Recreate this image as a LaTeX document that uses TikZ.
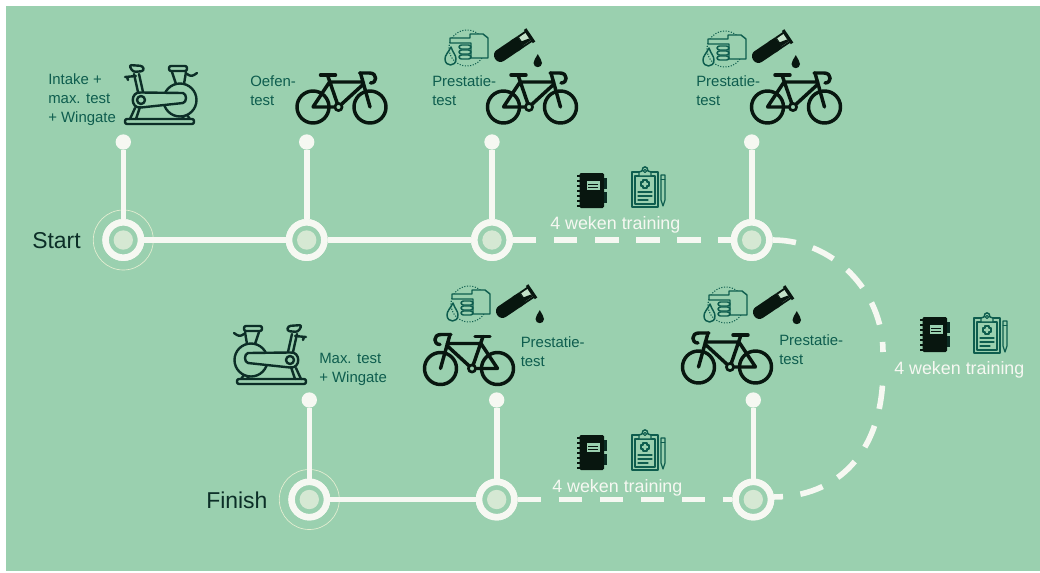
\documentclass[tikz,border=0pt]{standalone}
\usepackage{fontspec}
\setmainfont{Liberation Sans}
\definecolor{bgc}{HTML}{9AD0AF}
\definecolor{pale}{HTML}{D5E8D3}
\definecolor{wht}{HTML}{F6F8F2}
\definecolor{ink}{HTML}{08160F}
\definecolor{teal}{HTML}{0E5D4E}
\definecolor{dark}{HTML}{0C2E27}
\definecolor{halo}{HTML}{E4EED2}
\tikzset{
  x=0.75pt,y=-0.75pt,
  stem/.style={draw=wht,line width=4.2pt},
  dashline/.style={draw=wht,line width=4.2pt,dash pattern=on 17.6pt off 13.2pt},
  ringnode/.style={circle,draw=wht,line width=4.9pt,fill=bgc,minimum size=26.5pt,inner sep=0pt},
  coredot/.style={circle,fill=pale,minimum size=14.5pt,inner sep=0pt},
  halonode/.style={circle,draw=halo,line width=0.5pt,minimum size=45pt,inner sep=0pt},
  enddot/.style={circle,fill=wht,minimum size=11.5pt,inner sep=0pt},
  lab/.style={anchor=west,inner sep=0pt,align=left,text=teal,font=\fontsize{11.2}{14.2}\selectfont},
  big/.style={anchor=base west,inner sep=0pt,text=dark,font=\fontsize{17.2}{20}\selectfont},
  wk/.style={anchor=base west,inner sep=0pt,text=wht,font=\fontsize{13.4}{16}\selectfont},
  bk/.style={draw=ink,line width=2.6pt,line cap=round,line join=round},
  eb/.style={draw=dark,line width=1.8pt,line cap=round,line join=round},
  tl/.style={draw=teal,line width=1.1pt,line cap=round,line join=round},
  bike/.pic={
    \draw[bk] (17.5,35) circle[radius=16];
    \draw[bk] (74.5,35) circle[radius=16];
    \draw[bk] (17.5,35)--(43,35)--(32,3) (17.5,35)--(34,10)--(68,10) (43,35)--(67,13) (65,1)--(74.5,35);
    \draw[bk] (25,3)--(40,3);
    \draw[bk] (64,1)--(74,1) .. controls (82,1) and (82,11) .. (75,11);
    \draw[bk,fill=bgc,line width=2pt] (43,35) circle[radius=3.6];
  },
  ebike/.pic={
    \draw[eb,rounded corners=1.5pt] (0,56) rectangle (69,61);
    \draw[eb] (55,37) circle[radius=16.5];
    \draw[eb] (47,9)--(51,21) (61,9)--(59,21);
    \draw[eb,rounded corners=1.5pt] (44,3) rectangle (62,8);
    \draw[eb] (62,11) .. controls (66,14) and (68,13) .. (72,10);
    \draw[eb,fill=bgc] (16,29.5) -- (58,30) .. controls (62,31) and (62,39) .. (58,40) -- (16,44.5) .. controls (5,46) and (5,28) .. (16,29.5) -- cycle;
    \draw[eb] (16,37) circle[radius=4];
    \draw[eb] (9,11)--(13,29) (14,11)--(18,29);
    \draw[eb,rounded corners=2pt] (4,2) -- (18,3) -- (19,8) -- (8,9) -- cycle;
    \draw[eb] (0,14)--(11,13) (2,14)--(3,17);
    \draw[eb] (10,45)--(5,56) (15,44)--(11,56);
    \draw[eb] (57,53)--(59,56) (62,52)--(65,56);
  },
  labset/.pic={
    \draw[teal,line width=0.8pt,dash pattern=on 0.8pt off 1.2pt] (22,18) circle[radius=18];
    \draw[tl,fill=bgc] (5,8)--(25,8)--(25,4)--(38,4)--(43,8)--(43,28)--(26,28)--(26,13)--(5,13)--cycle;
    \foreach \yy in {15,20,25} {\draw[tl,fill=bgc,rounded corners=1.8pt] (14,\yy) rectangle (26,\yy+4);}
    \draw[tl] (6,17) .. controls (3,23) and (0,25) .. (0,29) .. controls (0,37) and (11,37) .. (11,29) .. controls (11,25) and (8,23) .. (6,17) -- cycle;
    \begin{scope}[shift={(56,25)},rotate=34]
      \fill[ink,rounded corners=4.5pt] (-7,-6.5) rectangle (24,6.5);
      \fill[ink] (16,-6.5) rectangle (24,6.5);
      \fill[ink] (24,-6.5) -- (34,-6.5) -- (34,6.5) -- (24,6.5) -- cycle;
      \fill[ink] (33,-8) rectangle (36,8);
      \fill[pale!70!bgc] (25,-4.5) rectangle (32.5,4.5);
      \fill[ink] (24,0) -- (32.5,2) -- (32.5,4.5) -- (24,4.5) -- cycle;
    \end{scope}
    \fill[ink] (92.8,24) .. controls (90.5,28.5) and (88.5,30.5) .. (88.5,33) .. controls (88.5,38.5) and (97,38.5) .. (97,33) .. controls (97,30.5) and (95,28.5) .. (92.8,24) -- cycle;
  },
  notebook/.pic={
    \fill[ink,rounded corners=1pt] (2.5,0) rectangle (27,35);
    \foreach \yy in {3,8,13,18,23,28,33} {\draw[ink,line width=0.9pt] (0,\yy)--(4,\yy);}
    \fill[ink!70!teal] (27,5) rectangle (30,16);
    \fill[ink!70!teal] (27,19) rectangle (30,30);
    \fill[bgc] (9.5,8) rectangle (22.5,17);
    \draw[ink,line width=0.6pt] (11,11)--(21,11) (11,14)--(21,14);
  },
  clipset/.pic={
    \draw[tl,line width=1.3pt] (0,5) rectangle (26,40);
    \draw[tl,line width=0.8pt] (3,9) rectangle (23,37);
    \draw[tl,fill=bgc] (7,9) -- (7,5) -- (10,4) .. controls (10,-1.5) and (16,-1.5) .. (16,4) -- (19,5) -- (19,9) -- cycle;
    \draw[tl,line width=0.8pt] (13,4) circle[radius=1.6];
    \draw[tl] (11.2,13)--(14.8,13)--(14.8,15.2)--(17,15.2)--(17,18.8)--(14.8,18.8)--(14.8,21)--(11.2,21)--(11.2,18.8)--(9,18.8)--(9,15.2)--(11.2,15.2)--cycle;
    \draw[tl,line width=0.8pt] (6,25)--(20,25) (6,29)--(20,29) (6,33)--(16,33);
    \draw[tl,line width=0.9pt] (29,8)--(33,8)--(33,33)--(31,39)--(29,33)--cycle;
    \draw[tl,line width=0.7pt] (29,12)--(33,12);
  },
}
\begin{document}
\begin{tikzpicture}
\useasboundingbox (0,0) rectangle (1040,572);
\fill[white] (0,0) rectangle (1040,572);
\fill[bgc] (6,6) rectangle (1040,571);

% halos
\node[halonode] (h1) at (123.3,240) {};
\node[halonode] (h5) at (309.3,499.5) {};

% rings
\node[ringnode] (r1) at (123.3,240) {};
\node[ringnode] (r2) at (306.7,240) {};
\node[ringnode] (r3) at (492,240) {};
\node[ringnode] (r4) at (751.7,240) {};
\node[ringnode] (r5) at (309.3,499.5) {};
\node[ringnode] (r6) at (496.7,499.5) {};
\node[ringnode] (r7) at (753.3,499.5) {};

% end dots
\node[enddot] (d1) at (123.3,142) {};
\node[enddot] (d2) at (306.7,142) {};
\node[enddot] (d3) at (492,142) {};
\node[enddot] (d4) at (751.7,142) {};
\node[enddot] (d5) at (309.3,400) {};
\node[enddot] (d6) at (496.7,400) {};
\node[enddot] (d7) at (753.3,400) {};

% connectors
\draw[stem] (d1)--(r1);
\draw[stem] (d2)--(r2);
\draw[stem] (d3)--(r3);
\draw[stem] (d4)--(r4);
\draw[stem] (d5)--(r5);
\draw[stem] (d6)--(r6);
\draw[stem] (d7)--(r7);
\draw[stem] (r1)--(r2);
\draw[stem] (r2)--(r3);
\draw[stem] (r5)--(r6);
\draw[dashline] (r3.east)--(r4.west);
\draw[dashline] (r6.east)--(r7.west);
\coordinate (turnA) at (883,352);
\coordinate (turnB) at (883,370);
\draw[dashline] (r4.east) .. controls (832,240) and (883,290) .. (turnA);
\draw[dashline,dash phase=10.9pt] (r7.7) .. controls (835,497) and (883,455) .. (turnB);

% redraw rings and cores on top
\node[ringnode] (r1t) at (r1) {};
\node[ringnode] (r2t) at (r2) {};
\node[ringnode] (r3t) at (r3) {};
\node[ringnode] (r4t) at (r4) {};
\node[ringnode] (r5t) at (r5) {};
\node[ringnode] (r6t) at (r6) {};
\node[ringnode] (r7t) at (r7) {};
\foreach \n in {1,...,7} {\node[coredot] (c\n) at (r\n) {};}

% icons
\pic at (125,63) {ebike};
\pic[xscale=-1] at (306,323) {ebike};
\pic at (295.5,72) {bike};
\pic at (486,72) {bike};
\pic at (750,72) {bike};
\pic[xscale=-1] at (515,333.5) {bike};
\pic[xscale=-1] at (773,332) {bike};
\pic at (445,30) {labset};
\pic at (703,31) {labset};
\pic at (447,286) {labset};
\pic at (704,287) {labset};
\pic at (577,173) {notebook};
\pic at (632,167) {clipset};
\pic at (920,317) {notebook};
\pic at (974,313) {clipset};
\pic at (577,435) {notebook};
\pic at (632,430) {clipset};

% labels
\node[lab] (t1) at (48,100) {Intake +\\max. test\\+ Wingate};
\node[lab] (t2) at (250,91) {Oefen-\\test};
\node[lab] (t3) at (432,90.5) {Prestatie-\\test};
\node[lab] (t4) at (696,90.5) {Prestatie-\\test};
\node[lab] (t5) at (319,369) {Max. test\\+ Wingate};
\node[lab] (t6) at (520.5,352) {Prestatie-\\test};
\node[lab] (t7) at (779,350) {Prestatie-\\test};
\node[big] (start) at (32,248) {Start};
\node[big] (finish) at (206,508) {Finish};
\node[wk] (w1) at (550,229) {4 weken training};
\node[wk] (w2) at (552,492) {4 weken training};
\node[wk] (w3) at (894,374) {4 weken training};
\end{tikzpicture}
\end{document}
